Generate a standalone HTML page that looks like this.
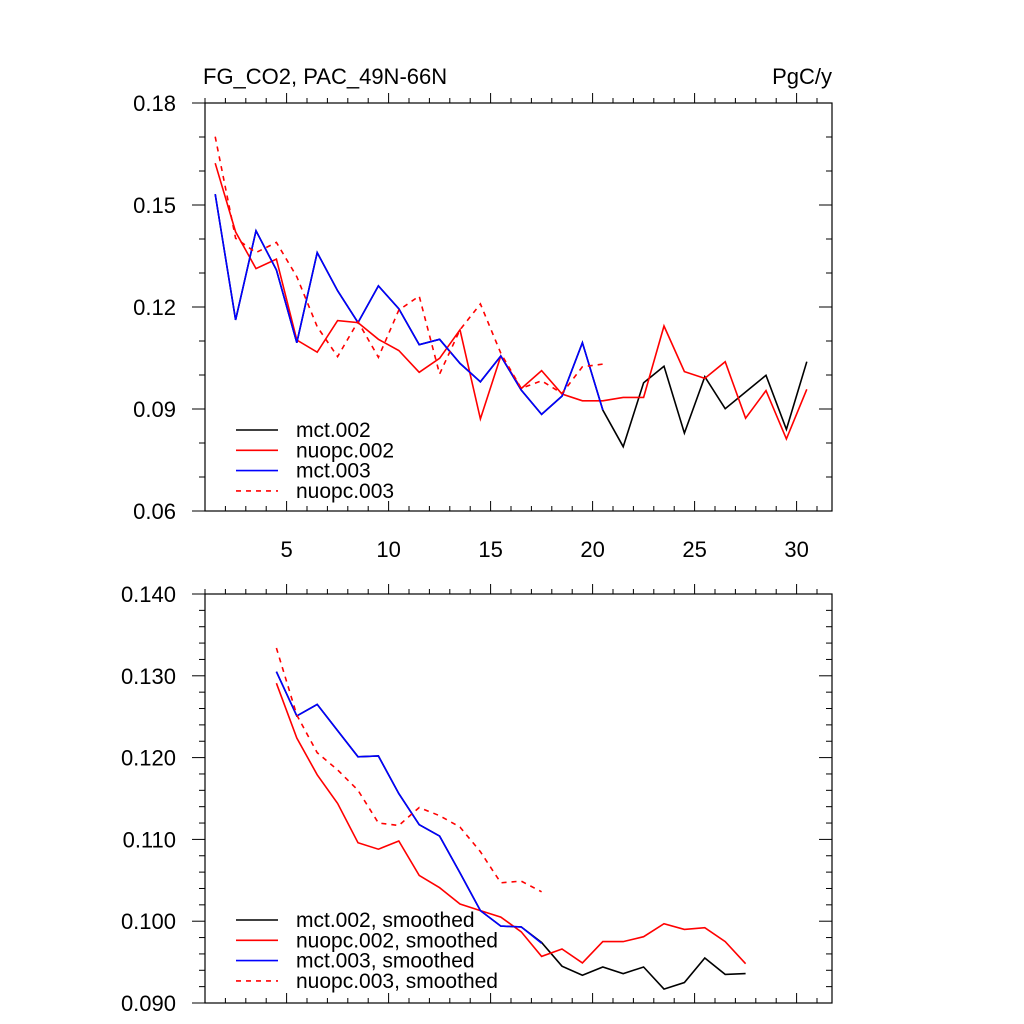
<!DOCTYPE html>
<html><head><meta charset="utf-8">
<style>
html,body{margin:0;padding:0;background:#fff;}
svg{display:block;font-family:"Liberation Sans",sans-serif;}
</style></head>
<body>
<svg id="chart" width="1024" height="1024" viewBox="0 0 1024 1024" xmlns="http://www.w3.org/2000/svg">
<text x="203" y="84" font-size="22">FG_CO2, PAC_49N-66N</text>
<text x="832" y="84" font-size="22" text-anchor="end">PgC/y</text>
<g id="top"></g>
<g id="bot"></g>
</svg>
<script>
const topMct002 = [0.1532,0.1162,0.1424,0.1309,0.1095,0.1360,0.1248,0.1154,0.1262,0.1195,0.1089,0.1105,0.1034,0.0980,0.1056,0.0956,0.0884,0.0938,0.1095,0.0897,0.0789,0.0977,0.1026,0.0829,0.0995,0.0901,0.0950,0.0999,0.0840,0.1039];
const topNuopc002 = [0.1623,0.1421,0.1313,0.1341,0.1103,0.1067,0.1160,0.1154,0.1105,0.1072,0.1008,0.1049,0.1133,0.0871,0.1056,0.0960,0.1013,0.0944,0.0924,0.0924,0.0934,0.0934,0.1144,0.1010,0.0990,0.1039,0.0873,0.0954,0.0812,0.0958];
const topMct003 = [0.1532,0.1162,0.1424,0.1309,0.1095,0.1360,0.1248,0.1154,0.1262,0.1195,0.1089,0.1105,0.1034,0.0980,0.1056,0.0956,0.0884,0.0938,0.1095,0.0897];
const topNuopc003 = [0.1701,0.1402,0.1360,0.1390,0.1289,0.1142,0.1054,0.1157,0.1052,0.1191,0.1232,0.1003,0.1133,0.1209,0.1064,0.0961,0.0983,0.0946,0.1024,0.1032];
const topStartX = 1.5;
const botMct002 = [0.1305,0.1251,0.1265,0.1233,0.1201,0.1202,0.1156,0.1118,0.1104,0.1059,0.1013,0.0994,0.0993,0.0974,0.0945,0.0934,0.0944,0.0936,0.0944,0.0917,0.0925,0.0955,0.0935,0.0936];
const botNuopc002 = [0.1291,0.1224,0.1179,0.1144,0.1096,0.1088,0.1098,0.1056,0.1041,0.1021,0.1013,0.1005,0.0987,0.0957,0.0966,0.0949,0.0975,0.0975,0.0981,0.0997,0.0990,0.0992,0.0975,0.0948];
const botMct003 = [0.1305,0.1251,0.1265,0.1233,0.1201,0.1202,0.1156,0.1118,0.1104,0.1059,0.1013,0.0994,0.0993,0.0973];
const botNuopc003 = [0.1334,0.1252,0.1206,0.1185,0.1160,0.1120,0.1117,0.1139,0.1129,0.1115,0.1085,0.1047,0.1049,0.1036];
const botStartX = 4.5;
const xTickLabels = ["5","10","15","20","25","30"];
const topYTickLabels = ["0.06","0.09","0.12","0.15","0.18"];
const botYTickLabels = ["0.090","0.100","0.110","0.120","0.130","0.140"];
const topLegend = ["mct.002","nuopc.002","mct.003","nuopc.003"];
const botLegend = ["mct.002, smoothed","nuopc.002, smoothed","mct.003, smoothed","nuopc.003, smoothed"];

const NS="http://www.w3.org/2000/svg";
const L=205,R=832;
const XMIN=1.0, XMAX=1+627/20.4;
function xs(v){return L+(v-XMIN)/(XMAX-XMIN)*(R-L);}
function mk(parent,tag,attrs){const e=document.createElementNS(NS,tag);for(const k in attrs)e.setAttribute(k,attrs[k]);parent.appendChild(e);return e;}

function panel(g,T,B,ymin,ymax,ymajor,yminor,yLabels,showX,series,legend,legY){
  const ys=v=>B-(v-ymin)/(ymax-ymin)*(B-T);
  const fr=mk(g,'rect',{x:L,y:T,width:R-L,height:B-T,fill:'none',stroke:'#000','stroke-width':1.2});
  
  
  for(let v=1;v<=31;v++){
    const x=xs(v); const maj=v%5===0; const len=maj?10:5;
    [B,T].forEach(yy=>{
      const t=mk(g,'line',{x1:x,x2:x,y1:yy,y2:yy-len,stroke:'#000','stroke-width':1});
      
      
    });
  }
  if(showX){
    xTickLabels.forEach(s=>{
      const t=mk(g,'text',{x:xs(+s),y:B+46,'font-size':22,'text-anchor':'middle'});
      t.textContent=s;
      
      
    });
  }
  const n=Math.round((ymax-ymin)/yminor);
  for(let i=0;i<=n;i++){
    const v=ymin+i*yminor; const y=ys(v);
    const maj=Math.abs(((v-ymin)/ymajor)-Math.round((v-ymin)/ymajor))<1e-6;
    const t1=mk(g,'line',{x1:L,x2:L-(maj?13:6),y1:y,y2:y,stroke:'#000','stroke-width':1});
    
    
    const t2=mk(g,'line',{x1:R,x2:R-(maj?13:6),y1:y,y2:y,stroke:'#000','stroke-width':1});
    
    
  }
  yLabels.forEach(s=>{
    const t=mk(g,'text',{x:176,y:ys(+s)+8,'font-size':22,'text-anchor':'end'});
    t.textContent=s;
    
    
  });
  series.forEach(sr=>{
    const pts=sr.data.map((v,i)=>xs(sr.x0+i).toFixed(1)+','+ys(v).toFixed(1)).join(' ');
    const p=mk(g,'polyline',{points:pts,fill:'none',stroke:sr.color,'stroke-width':1.6,'stroke-dasharray':sr.dash?'5,5':'none'});
    
    
  });
  legend.forEach((s,i)=>{
    const y=legY+i*20.3; const sr=series[i];
    const ln=mk(g,'line',{x1:236,x2:278,y1:y,y2:y,stroke:sr.color,'stroke-width':1.6,'stroke-dasharray':sr.dash?'5,5':'none'});
    
    
    const t=mk(g,'text',{x:296,y:y+7,'font-size':21});
    t.textContent=s;
    
    
  });
}
panel(document.getElementById('top'),103,511,0.06,0.18,0.03,0.01,topYTickLabels,true,[
  {name:'mct002',data:topMct002,x0:topStartX,color:'#000'},
  {name:'nuopc002',data:topNuopc002,x0:topStartX,color:'#f00'},
  {name:'mct003',data:topMct003,x0:topStartX,color:'#00f'},
  {name:'nuopc003',data:topNuopc003,x0:topStartX,color:'#f00',dash:true}
],topLegend,430);
panel(document.getElementById('bot'),594,1003,0.09,0.14,0.01,0.002,botYTickLabels,false,[
  {name:'mct002-smoothed',data:botMct002,x0:botStartX,color:'#000'},
  {name:'nuopc002-smoothed',data:botNuopc002,x0:botStartX,color:'#f00'},
  {name:'mct003-smoothed',data:botMct003,x0:botStartX,color:'#00f'},
  {name:'nuopc003-smoothed',data:botNuopc003,x0:botStartX,color:'#f00',dash:true}
],botLegend,920);
</script>
</body></html>
